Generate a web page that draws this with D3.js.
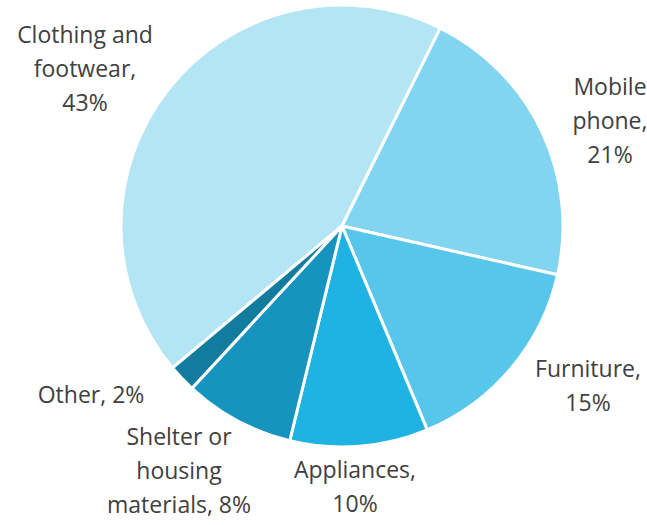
<!DOCTYPE html>
<html>
<head>
<meta charset="utf-8">
<script src="https://cdn.jsdelivr.net/npm/d3@7"></script>
<style>
  html, body { margin: 0; padding: 0; background: #ffffff; }
  svg { display: block; }
  text { font-family: "Open Sans", "Noto Sans", sans-serif; fill: #404040; }
</style>
</head>
<body>
<svg id="chart" width="647" height="525"></svg>
<script>
// Spending categories and their shares (%)
const categories = ["Clothing and footwear", "Mobile phone", "Furniture", "Appliances", "Shelter or housing materials", "Other"];
const shares = [43, 21, 15, 10, 8, 2];
const colors = ["#b4e5f5", "#82d5f0", "#56c7eb", "#1fb3e3", "#1794be", "#127c9f"];

// Label lines as printed beside each slice
const labelLines = [
  ["Clothing and", "footwear,", "43%"],
  ["Mobile", "phone,", "21%"],
  ["Furniture,", "15%"],
  ["Appliances,", "10%"],
  ["Shelter or", "housing", "materials, 8%"],
  ["Other, 2%"]
];

// Label anchor (centre x, first baseline y) relative to the pie centre
const labelAnchors = [
  [-257, -183], [268, -131], [246, 151], [13, 252], [-163, 219], [-251, 177]
];

const width = 647, height = 525;
const cx = 342, cy = 226, radius = 221;
const lineHeight = 34;

const svg = d3.select("#chart");
const g = svg.append("g").attr("transform", `translate(${cx},${cy})`);

const data = categories.map((c, i) => ({ name: c, value: shares[i], color: colors[i], lines: labelLines[i] }));

// Clothing occupies the left side; the mobile slice starts at about 26° past 12 o'clock
const total = d3.sum(shares);
const start = (26.4 - shares[0] / total * 360) * Math.PI / 180;

const pie = d3.pie()
  .sort(null)
  .value(d => d.value)
  .startAngle(start)
  .endAngle(start + 2 * Math.PI);

const arc = d3.arc().innerRadius(0).outerRadius(radius);

g.selectAll("path.slice")
  .data(pie(data))
  .join("path")
  .attr("class", "slice")
  .attr("d", arc)
  .attr("fill", d => d.data.color)
  .attr("stroke", "#ffffff")
  .attr("stroke-width", 3)
  .attr("stroke-linejoin", "round");

const labels = g.selectAll("text.label")
  .data(data)
  .join("text")
  .attr("class", "label")
  .attr("text-anchor", "middle")
  .attr("font-size", 23)
  .attr("x", (d, i) => labelAnchors[i][0])
  .attr("y", (d, i) => labelAnchors[i][1]);

labels.each(function(d, i) {
  const t = d3.select(this);
  d.lines.forEach((line, j) => {
    t.append("tspan")
      .attr("x", labelAnchors[i][0])
      .attr("y", labelAnchors[i][1] + j * lineHeight)
      .text(line);
  });
});
</script>
</body>
</html>
